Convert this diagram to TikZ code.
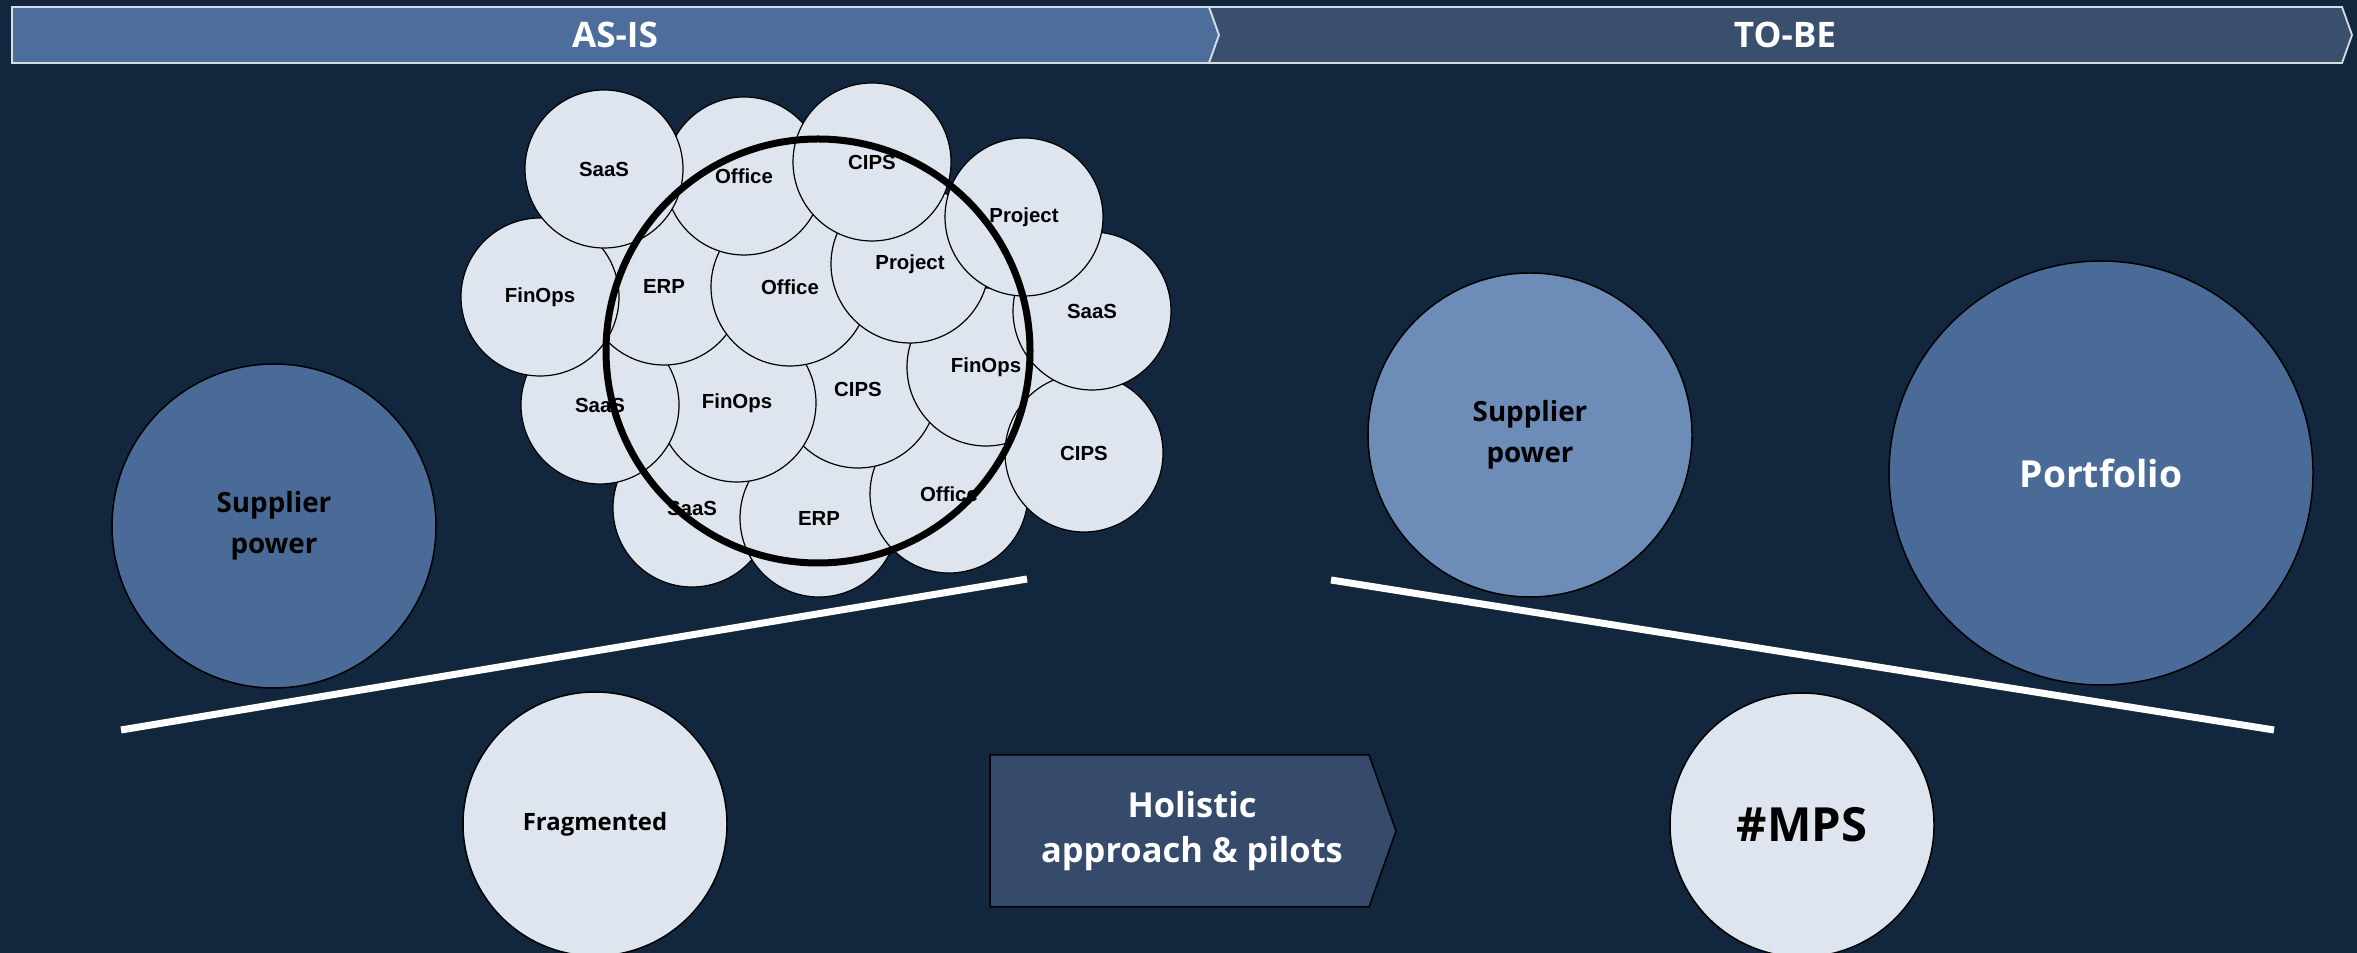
\documentclass[tikz,border=0pt]{standalone}
\usepackage{fontspec}
\setmainfont{Open Sans}
\newfontfamily\chipfont{Liberation Sans}
\definecolor{navy}{HTML}{12263D}
\definecolor{asis}{HTML}{4D6D9A}
\definecolor{tobe}{HTML}{3A4F6E}
\definecolor{bandline}{HTML}{D6DCE4}
\definecolor{deep}{HTML}{4A6A98}
\definecolor{pale}{HTML}{6D8DB8}
\definecolor{chipgray}{HTML}{DEE5EF}
\definecolor{arrowblue}{HTML}{364B6B}
\tikzset{
	chip/.style={draw, circle, line width=0.12mm, fill=chipgray, minimum size=15.8mm, inner sep=0pt, font=\chipfont\bfseries\fontsize{5.8}{7}\selectfont},
	ring/.style={draw, circle, line width=0.7mm, minimum size=42.4mm, inner sep=0pt},
	disc/.style={draw, circle, line width=0.15mm, inner sep=0pt, align=center, minimum size=32.4mm, font=\bfseries\fontsize{7.9}{11.7}\selectfont},
	beam/.style={draw=white, line width=0.7mm},
	band/.style={draw=bandline, line width=0.18mm},
	headtext/.style={text=white, font=\bfseries\fontsize{10}{12}\selectfont}
}
\begin{document}
\begin{tikzpicture}[x=0.1mm, y=-0.1mm]
				\useasboundingbox (0,0) rectangle (2357,953);
				\fill[navy] (0,0) rectangle (2357,953);
				\draw[band, fill=asis] (12,7) -- (1209,7) -- (1219,35) -- (1209,63) -- (12,63) -- cycle;
				\draw[band, fill=tobe] (1209,7) -- (2342,7) -- (2352,35) -- (2342,63) -- (1209,63) -- (1219,35) -- cycle;
				\node[headtext] (AS)at(615, 35) {AS-IS};
				\node[headtext] (TB)at(1785, 35) {TO-BE};
				\node[chip] (S5)at(692, 508) {SaaS};
				\node[chip] (E2)at(819, 518) {ERP};
				\node[chip] (O3)at(949, 494) {Office};
				\node[chip] (C2)at(858, 389) {CIPS};
				\node[chip] (F2)at(737, 403) {FinOps};
				\node[chip] (S4)at(600, 405) {SaaS};
				\node[chip] (E1)at(664, 286) {ERP};
				\node[chip] (F1)at(540, 297) {FinOps};
				\node[chip] (O2)at(790, 287) {Office};
				\node[chip] (F3)at(986, 367) {FinOps};
				\node[chip] (C3)at(1084, 453) {CIPS};
				\node[chip] (S3)at(1092, 311) {SaaS};
				\node[chip] (P2)at(910, 264) {Project};
				\node[chip] (P1)at(1024, 217) {Project};
				\node[chip] (O1)at(744, 176) {Office};
				\node[chip] (C1)at(872, 162) {CIPS};
				\node[chip] (S1)at(604, 169) {SaaS};
				\node[ring] (R)at(818, 351) {};
				\coordinate (LA)at(121, 730);
				\coordinate (LB)at(1027, 579);
				\coordinate (RA)at(1331, 580);
				\coordinate (RB)at(2274, 730);
				\draw[beam] (LA) -- (LB);
				\draw[beam] (RA) -- (RB);
				\node[disc, fill=deep] (SP1)at(274, 526) {Supplier\\power};
				\node[disc, fill=chipgray, minimum size=26.4mm, font=\bfseries\fontsize{6.8}{8}\selectfont] (FR)at(595, 824) {Fragmented};
				\node[disc, fill=pale] (SP2)at(1530, 435) {Supplier\\power};
				\node[disc, fill=deep, minimum size=42.4mm, text=white, font=\bfseries\fontsize{10.6}{12}\selectfont] (PF)at(2101, 473) {Portfolio};
				\node[disc, fill=chipgray, minimum size=26.4mm, font=\bfseries\fontsize{13.4}{15}\selectfont] (MPS)at(1802, 825) {\#MPS};
				\draw[fill=arrowblue, line width=0.15mm] (990,755) -- (1369,755) -- (1396,831) -- (1369,907) -- (990,907) -- cycle;
				\node[text=white, align=center, font=\bfseries\fontsize{9.8}{12.9}\selectfont] (HA)at(1192, 831) {Holistic\\approach \& pilots};
			\end{tikzpicture}
\end{document}
